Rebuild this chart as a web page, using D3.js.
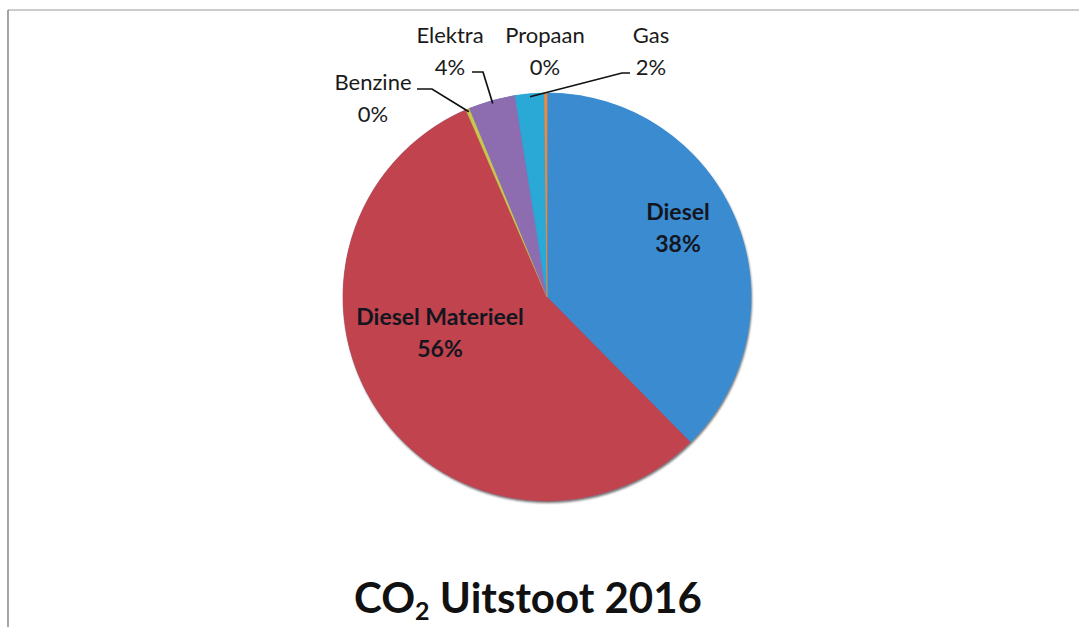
<!DOCTYPE html>
<html>
<head>
    <title>CO2 Uitstoot 2016</title>
    <script src="https://d3js.org/d3.v7.min.js"></script>
    <style>
        body { margin: 0; background: #fff; }
        svg { display: block; font-family: Lato, "Open Sans", sans-serif; }
    </style>
</head>
<body>
    <svg width="1079" height="627"></svg>

    <script>
        // Chart data (clockwise from 12 o'clock)
        const categories = ["Diesel", "Diesel Materieel", "Benzine", "Elektra", "Gas", "Propaan"];
        const shares = [37.6, 55.9, 0.3, 3.7, 2.3, 0.2];
        const labels = ["38%", "56%", "0%", "4%", "2%", "0%"];
        const colors = ["#3a8bd0", "#c0434d", "#c9c84c", "#8d6cb0", "#2aa8d6", "#ef8a3a"];

        const svg = d3.select("svg");
        const cx = 547, cy = 297, radius = 204;

        // Frame of the chart area
        svg.append("line").attr("x1", 8).attr("y1", 10).attr("x2", 1079).attr("y2", 10)
            .attr("stroke", "#9a9a9a").attr("stroke-width", 1.2);
        svg.append("line").attr("x1", 8).attr("y1", 10).attr("x2", 8).attr("y2", 627)
            .attr("stroke", "#6a6a6a").attr("stroke-width", 1.2);

        const data = categories.map((c, i) => ({ name: c, value: shares[i], label: labels[i], color: colors[i] }));

        const pie = d3.pie().sort(null).value(d => d.value);
        const arc = d3.arc().innerRadius(0).outerRadius(radius);
        const arcs = pie(data);

        // soft shadow along the lower edge
        const defs = svg.append("defs");
        const filt = defs.append("filter").attr("id", "shadow").attr("x", "-10%").attr("y", "-10%")
            .attr("width", "120%").attr("height", "120%");
        filt.append("feDropShadow").attr("dx", 1).attr("dy", 2).attr("stdDeviation", 1.2)
            .attr("flood-color", "#000").attr("flood-opacity", 0.55);

        const g = svg.append("g").attr("transform", `translate(${cx},${cy})`);

        g.append("circle").attr("r", radius).attr("fill", colors[0]).attr("filter", "url(#shadow)");

        g.selectAll("path.slice")
            .data(arcs)
            .join("path")
            .attr("class", "slice")
            .attr("d", arc)
            .attr("fill", d => d.data.color)
            .attr("stroke", d => d.data.color)
            .attr("stroke-width", 0.6);

        // Labels inside the two big slices (offsets from the pie centre)
        const inside = { "Diesel": [131, -77], "Diesel Materieel": [-107, 28] };
        arcs.filter(d => inside[d.data.name]).forEach(d => {
            const [dx, dy] = inside[d.data.name];
            const t = g.append("text")
                .attr("text-anchor", "middle")
                .attr("font-weight", 700)
                .attr("font-size", 23)
                .attr("fill", "#14161f");
            t.append("tspan").attr("x", dx).attr("y", dy).text(d.data.name);
            t.append("tspan").attr("x", dx).attr("y", dy + 32).text(d.data.label);
        });

        // Outside labels with leader lines
        const outside = {
            "Benzine": { x: -174, y: -207, from: -130, knee: [-115, -208] },
            "Elektra": { x: -97, y: -254, from: -75, knee: [-64, -225] },
            "Propaan": { x: -2, y: -254, from: null, knee: null },
            "Gas": { x: 104, y: -254, from: 83, knee: [75, -224] }
        };
        arcs.filter(d => outside[d.data.name]).forEach(d => {
            const o = outside[d.data.name];
            const t = g.append("text")
                .attr("text-anchor", "middle")
                .attr("font-size", 22)
                .attr("fill", "#1a1a1a");
            t.append("tspan").attr("x", o.x).attr("y", o.y).text(d.data.name);
            t.append("tspan").attr("x", o.x).attr("y", o.y + 32).text(d.data.label);
            if (o.knee) {
                const mid = (d.startAngle + d.endAngle) / 2;
                const end = [Math.sin(mid) * (radius - 3), -Math.cos(mid) * (radius - 3)];
                g.append("path")
                    .attr("d", d3.line()([[o.from, o.knee[1]], o.knee, end]))
                    .attr("fill", "none")
                    .attr("stroke", "#111")
                    .attr("stroke-width", 1.7);
            }
        });

        // Title
        const title = svg.append("text")
            .attr("x", 528).attr("y", 613)
            .attr("text-anchor", "middle")
            .attr("font-weight", 700)
            .attr("font-size", 42)
            .attr("fill", "#111");
        title.append("tspan").text("CO");
        title.append("tspan").attr("font-size", 25).attr("dy", 7).text("2");
        title.append("tspan").attr("dy", -7).text(" Uitstoot 2016");
    </script>
</body>
</html>
